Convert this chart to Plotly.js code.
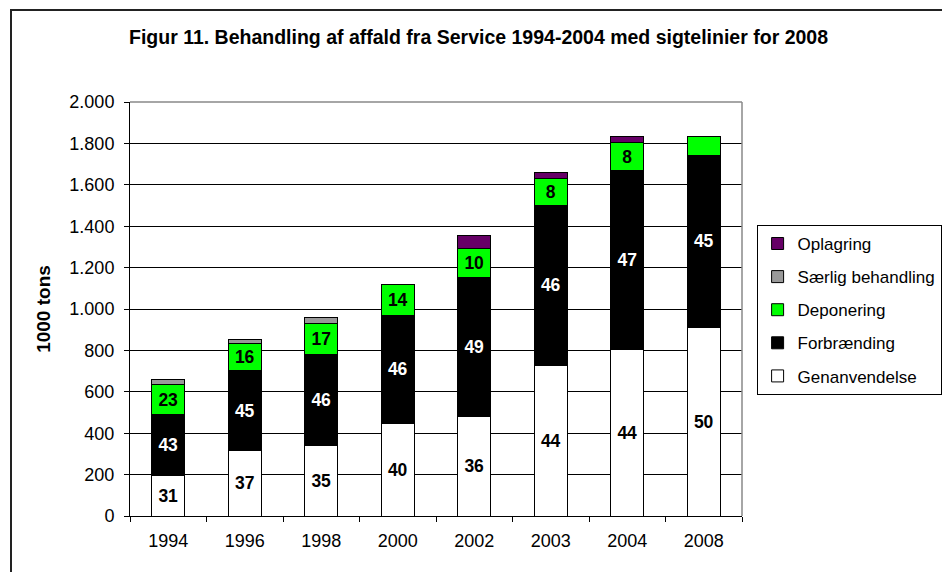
<!DOCTYPE html>
<html>
<head>
<meta charset="utf-8">
<script src="https://cdn.plot.ly/plotly-3.0.1.min.js"></script>
<style>
  html, body { margin: 0; padding: 0; background: #fff; }
  #wrap { position: relative; width: 942px; height: 572px; }
  #chart { width: 942px; height: 572px; }
  #frame { position: absolute; left: 10px; top: 9px; width: 940px; height: 570px;
           border-left: 2px solid #222; border-top: 2px solid #222; pointer-events: none; }
</style>
</head>
<body>
<div id="wrap">
  <div id="chart"></div>
  <div id="frame"></div>
</div>
<script>
// Categories (years)
const years = ['1994', '1996', '1998', '2000', '2002', '2003', '2004', '2008'];

// Series values (1000 tons)
const genanvendelse = [198, 316, 340, 448, 480, 729, 805, 912];
const forbraending  = [290, 386, 438, 520, 673, 773, 863, 829];
const deponering    = [145, 129, 153, 149, 137, 129, 136,  91];
const saerlig       = [ 27,  22,  27,   0,   0,   0,   0,   0];
const oplagring     = [  0,   0,   0,   0,  67,  28,  28,   0];

// Percentage labels shown in the bars
const genanvLabels  = ['31', '37', '35', '40', '36', '44', '44', '50'];
const forbrLabels   = ['43', '45', '46', '46', '49', '46', '47', '45'];
const deponLabels   = ['23', '16', '17', '14', '10', '8', '8', ''];

// Y tick labels
const yTickVals  = [0, 200, 400, 600, 800, 1000, 1200, 1400, 1600, 1800, 2000];
const yTickText  = ['0', '200', '400', '600', '800', '1.000', '1.200', '1.400', '1.600', '1.800', '2.000'];

const FONT = 'Liberation Sans, Arial, sans-serif';
const outline = { color: '#000', width: 1 };
const labelFont = (c) => ({ family: FONT, size: 17.5, color: c, weight: 'bold' });

const common = {
  type: 'bar', x: years, hoverinfo: 'skip',
  textposition: 'inside', insidetextanchor: 'middle', constraintext: 'none', cliponaxis: false
};

const traces = [
  Object.assign({}, common, {
    name: 'Genanvendelse', y: genanvendelse, text: genanvLabels, legendgroup: 'g1', legendrank: 5,
    marker: { color: '#ffffff', line: outline }, textfont: labelFont('#000')
  }),
  Object.assign({}, common, {
    name: 'Forbrænding', y: forbraending, text: forbrLabels, legendgroup: 'g2', legendrank: 4,
    marker: { color: '#000000', line: outline }, textfont: labelFont('#fff')
  }),
  Object.assign({}, common, {
    name: 'Deponering', y: deponering, text: deponLabels, legendgroup: 'g3', legendrank: 3,
    marker: { color: '#00ff00', line: outline }, textfont: labelFont('#000')
  }),
  Object.assign({}, common, {
    name: 'Særlig behandling', y: saerlig, legendgroup: 'g4', legendrank: 2,
    marker: { color: '#999999', line: outline }
  }),
  Object.assign({}, common, {
    name: 'Oplagring', y: oplagring, legendgroup: 'g5', legendrank: 1,
    marker: { color: '#660066', line: outline }
  })
];

const layout = {
  width: 942, height: 572,
  margin: { l: 130, r: 0, t: 102, b: 56 },
  paper_bgcolor: '#ffffff', plot_bgcolor: '#ffffff',
  font: { family: FONT, size: 18, color: '#000' },
  barmode: 'stack', bargap: 0.57,
  showlegend: true,
  title: {
    text: '<b>Figur 11. Behandling af affald fra Service 1994-2004 med sigtelinier for 2008</b>',
    font: { family: FONT, size: 19.5, color: '#000' },
    x: 478.5 / 942, xref: 'container', xanchor: 'center',
    y: 1 - 37 / 572, yref: 'container', yanchor: 'middle'
  },
  xaxis: {
    type: 'category', domain: [0, 612 / 812], tickson: 'boundaries', ticks: 'outside', ticklen: 5, tickcolor: '#000',
    showline: true, linecolor: '#000', linewidth: 1, showgrid: false,
    ticklabelstandoff: 8,
    tickfont: { family: FONT, size: 18, color: '#000' }
  },
  yaxis: {
    range: [0, 2000], tickvals: yTickVals, ticktext: yTickText,
    ticks: 'outside', ticklen: 5, tickcolor: '#000',
    showline: true, linecolor: '#000', linewidth: 1,
    showgrid: true, gridcolor: '#000', gridwidth: 1, zeroline: false,
    ticklabelstandoff: 6,
    tickfont: { family: FONT, size: 18, color: '#000' },
    title: { text: '<b>1000 tons</b>', font: { family: FONT, size: 19, color: '#000' }, standoff: 13 }
  },
  legend: {
    x: 0.9995, xanchor: 'right', y: 0.703, yanchor: 'top',
    traceorder: 'grouped', tracegroupgap: 8,
    bgcolor: '#ffffff', bordercolor: '#000', borderwidth: 1,
    font: { family: FONT, size: 17, color: '#000' },
    itemclick: false, itemdoubleclick: false
  },
  shapes: [
    { type: 'line', xref: 'x domain', yref: 'y domain', x0: 1, x1: 1, y0: 0, y1: 1,
      line: { color: '#888', width: 1.5 } },
    { type: 'line', xref: 'x domain', yref: 'y domain', x0: 0, x1: 1, y0: 1, y1: 1,
      line: { color: '#888', width: 1.5 } }
  ]
};

Plotly.newPlot('chart', traces, layout, { displayModeBar: false, staticPlot: true });
</script>
</body>
</html>
